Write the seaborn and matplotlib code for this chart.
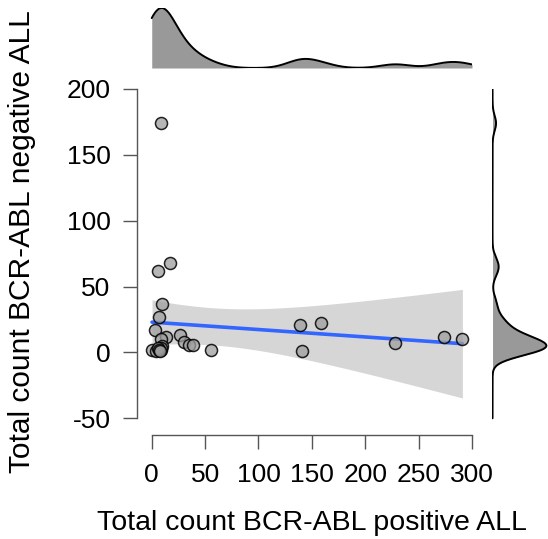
import numpy as np
import pandas as pd
import matplotlib
matplotlib.use("Agg")
import matplotlib.pyplot as plt
import seaborn as sns

# data (several points overlap near the origin)
pos_all = [8.4, 5.9, 17.1, 9.9, 6.5, 2.8, 13.4, 8.4, 9.6, 0.3, 8.4, 9.0,
           4.0, 6.0, 7.0, 8.0,
           26.5, 30.2, 35.2, 38.9, 55.5, 139.0, 158.4, 140.6, 228.3, 274.0, 291.0]
neg_all = [174, 62, 68, 37, 27, 17, 12, 10, 5, 2, 2, 3,
           1, 3, 2, 1,
           13, 8, 6, 6, 2, 21, 22, 1, 7, 12, 10]
x_ticks = [0, 50, 100, 150, 200, 250, 300]
y_ticks = [-50, 0, 50, 100, 150, 200]

df = pd.DataFrame({"pos": pos_all, "neg": neg_all})

sns.set_theme(style="white")
plt.rcParams["font.family"] = ["Liberation Sans", "DejaVu Sans"]
plt.rcParams["axes.unicode_minus"] = False
plt.rcParams["text.color"] = "black"
plt.rcParams["axes.labelcolor"] = "black"


def nrd0_factor(v):
    # R's bw.nrd0 expressed as a gaussian_kde factor
    v = np.asarray(v, float)
    sd = v.std(ddof=1)
    iqr = np.subtract(*np.percentile(v, [75, 25]))
    lo = min(sd, iqr / 1.34)
    bw = 0.9 * lo * len(v) ** -0.2
    return bw / sd


def t975(dof):
    try:
        from scipy import stats
        return stats.t.ppf(0.975, dof)
    except ImportError:
        return 2.06


W, H = 548, 539
fig = plt.figure(figsize=(W / 100, H / 100), dpi=100)


def box(x0, y0, x1, y1):
    return [x0 / W, 1 - y1 / H, (x1 - x0) / W, (y1 - y0) / H]


ax = fig.add_axes(box(137, 89, 472, 435))
ax_top = fig.add_axes(box(137, 8, 472, 68))
ax_right = fig.add_axes(box(492, 89, 548, 435))

xlim = (-13.8, 300)
ylim = (-62.7, 200)

# analytic 95% confidence band of the linear fit (like lm / geom_smooth)
x = df["pos"].to_numpy(float)
y = df["neg"].to_numpy(float)
n = len(x)
b1, b0 = np.polyfit(x, y, 1)
grid = np.linspace(x.min(), x.max(), 200)
fit = b0 + b1 * grid
s_res = np.sqrt(np.sum((y - (b0 + b1 * x)) ** 2) / (n - 2))
sxx = np.sum((x - x.mean()) ** 2)
se = s_res * np.sqrt(1 / n + (grid - x.mean()) ** 2 / sxx)
tq = t975(n - 2)
ax.fill_between(grid, fit - tq * se, fit + tq * se, color="#d6d6d6", lw=0, zorder=1)

# regression line
sns.regplot(data=df, x="pos", y="neg", ax=ax, scatter=False, ci=None,
            line_kws={"color": "#3366FF", "lw": 2.6, "zorder": 2})

sns.scatterplot(data=df, x="pos", y="neg", ax=ax, s=75,
                color=(0.62, 0.62, 0.62, 0.75), edgecolor=(0, 0, 0, 0.85),
                linewidth=1.1, zorder=5)

ax.set_xlim(xlim)
ax.set_ylim(ylim)
ax.set_xticks(x_ticks)
ax.set_yticks(y_ticks)
for s in ["top", "right"]:
    ax.spines[s].set_visible(False)
ax.spines["bottom"].set_bounds(0, 300)
ax.spines["left"].set_bounds(-50, 200)
for s in ["bottom", "left"]:
    ax.spines[s].set_color("#555555")
    ax.spines[s].set_linewidth(1.0)
ax.tick_params(axis="both", length=10, width=1.0, color="#555555",
               labelsize=19, labelcolor="black", left=True, bottom=True)
ax.tick_params(axis="x", pad=10)
ax.tick_params(axis="y", pad=9)

ax.set_xlabel("Total count BCR-ABL positive ALL", fontsize=20.5)
ax.set_ylabel("Total count BCR-ABL negative ALL", fontsize=21.5)
ax.xaxis.set_label_coords((312 - 137) / 335, (435 - 523) / 346)
ax.xaxis.label.set_va("center")
ax.yaxis.set_label_coords((22 - 137) / 335, (435 - 242) / 346)
ax.yaxis.label.set_va("center")

# top marginal density (evaluated over the whole axis range)
sns.kdeplot(x=pos_all, ax=ax_top, bw_method=nrd0_factor(pos_all), clip=(0, 300),
            cut=30, gridsize=400, fill=True, color="#999999", alpha=1, linewidth=0)
sns.kdeplot(x=pos_all, ax=ax_top, bw_method=nrd0_factor(pos_all), clip=(0, 300),
            cut=30, gridsize=400, color="black", linewidth=1.4)
ymax = max(l.get_ydata().max() for l in ax_top.lines)
ax_top.set_xlim(xlim)
ax_top.set_ylim(0, ymax)
ax_top.axis("off")

# right marginal density
sns.kdeplot(y=neg_all, ax=ax_right, bw_method=nrd0_factor(neg_all), clip=(-50, 200),
            cut=30, gridsize=400, fill=True, color="#999999", alpha=1, linewidth=0)
sns.kdeplot(y=neg_all, ax=ax_right, bw_method=nrd0_factor(neg_all), clip=(-50, 200),
            cut=30, gridsize=400, color="black", linewidth=1.4)
xmax = max(l.get_xdata().max() for l in ax_right.lines)
ax_right.set_ylim(ylim)
ax_right.set_xlim(-0.5 * xmax * 0.02, xmax * 1.03)
ax_right.axis("off")

fig.savefig("out.png", dpi=100)
